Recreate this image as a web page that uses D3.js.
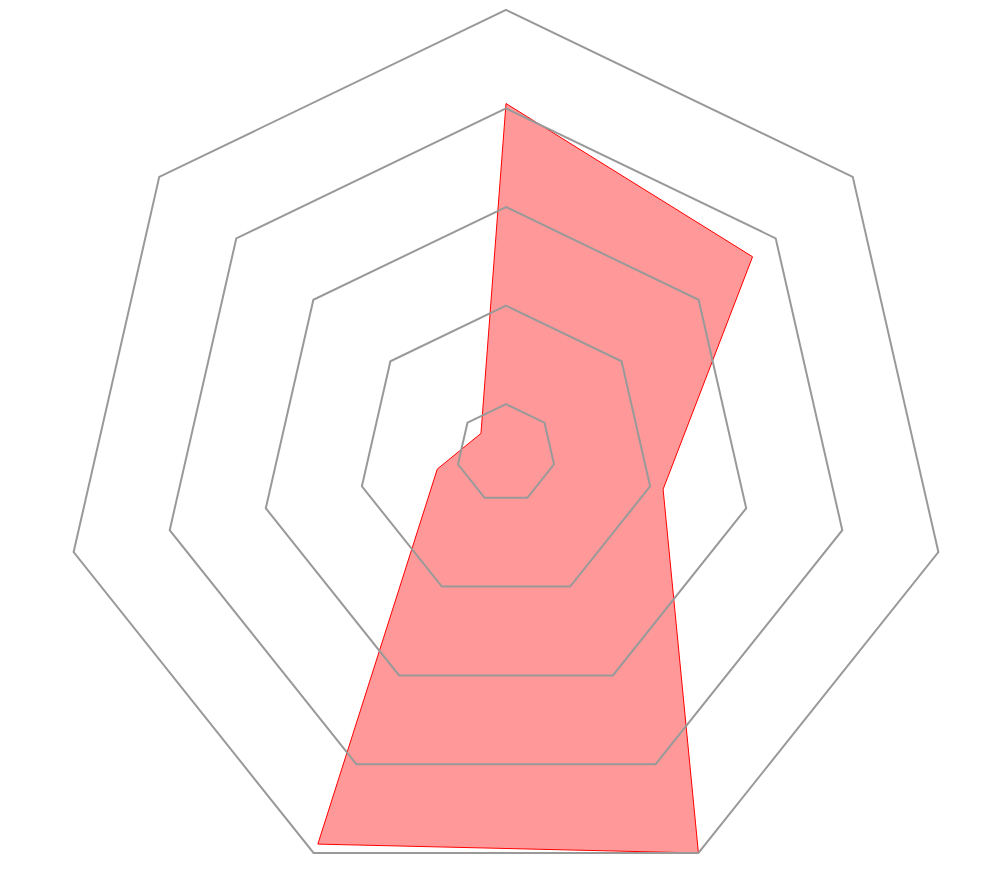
<!DOCTYPE html>
<html>
<head>
<meta charset="utf-8">
<script src="https://cdn.jsdelivr.net/npm/d3@7"></script>
<style>
  html, body { margin: 0; padding: 0; background: #fff; }
  svg { display: block; }
</style>
</head>
<body>
<svg id="chart" width="993" height="873"></svg>
<script>
const axes = ["A", "B", "C", "D", "E", "F", "G"];
const values = [71, 64, 32.7, 90, 88, 14.3, 6.5];
const levels = [10, 30, 50, 70, 90];
const maxValue = 90;

const width = 993, height = 873;
const cx = 506, cy = 453.4, R = 443.5;

const svg = d3.select("#chart");
const g = svg.append("g").attr("transform", `translate(${cx},${cy})`);

const r = d3.scaleLinear().domain([0, maxValue]).range([0, R]);
const angle = d3.scaleLinear().domain([0, axes.length]).range([0, 2 * Math.PI]);

const radial = d3.lineRadial()
  .angle((d, i) => angle(i))
  .radius(d => r(d))
  .curve(d3.curveLinearClosed);

// data
g.append("path")
  .datum(values)
  .attr("d", radial)
  .attr("fill", "rgba(255,0,0,0.4)")
  .attr("stroke", "red")
  .attr("stroke-width", 1);

// grid (drawn on top)
g.selectAll("path.grid")
  .data(levels)
  .join("path")
  .attr("class", "grid")
  .attr("d", lv => radial(axes.map(() => lv)))
  .attr("fill", "none")
  .attr("stroke", "#999")
  .attr("stroke-width", 2);
</script>
</body>
</html>
